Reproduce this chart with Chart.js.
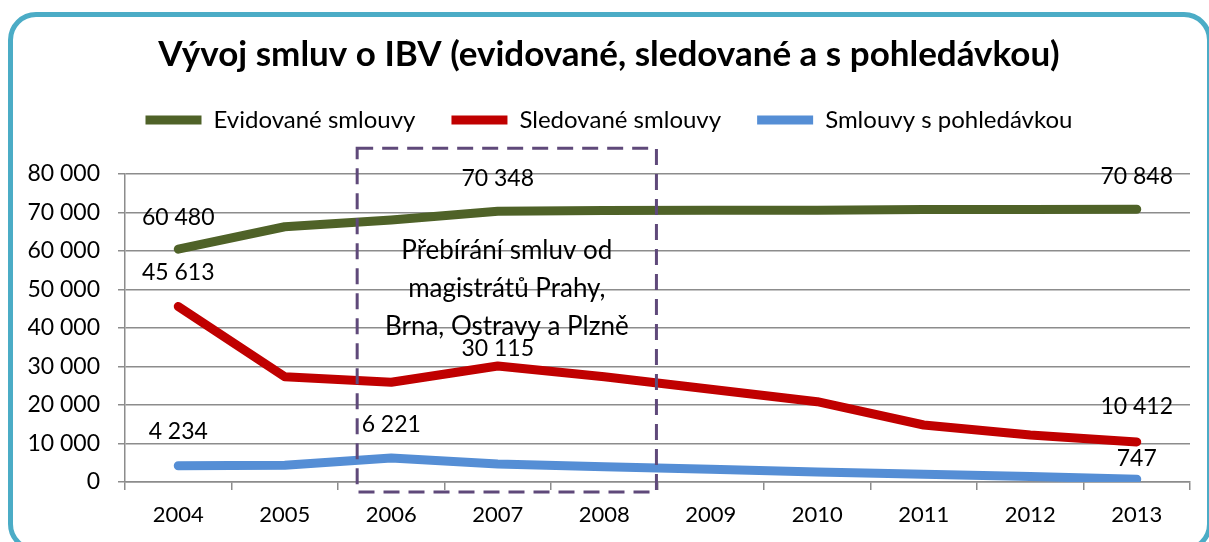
<!DOCTYPE html>
<html>
<head>
<meta charset="utf-8">
<script src="https://cdn.jsdelivr.net/npm/chart.js@4/dist/chart.umd.min.js"></script>
<style>
  html, body { margin: 0; padding: 0; background: #fff; overflow: hidden; }
  #wrap { position: relative; width: 1209px; height: 542px; }
  #frame {
    position: absolute; left: 8px; top: 12px; width: 1204px; height: 540px;
    border: 5px solid #4BACC6; border-radius: 28px; box-sizing: border-box;
  }
  canvas { position: absolute; left: 0; top: 0; }
</style>
</head>
<body>
<div id="wrap">
  <div id="frame"></div>
  <canvas id="chart" width="1209" height="542"></canvas>
</div>
<script>
// data
const years = ["2004", "2005", "2006", "2007", "2008", "2009", "2010", "2011", "2012", "2013"]
const evidovane = [60480, 66300, 68050, 70348, 70500, 70600, 70600, 70800, 70800, 70848]
const sledovane = [45613, 27350, 25900, 30115, 27350, 24070, 20860, 14800, 12200, 10412]
const sPohledavkou = [4234, 4350, 6221, 4700, 3980, 3290, 2600, 2000, 1400, 747]

const yTicks = { min: 0, max: 80000, step: 10000 }

// which points get a value label (series, index) and how far above the point
const valueLabels = [
  { series: 0, index: 0, dy: -32 },
  { series: 0, index: 3, dy: -33 },
  { series: 0, index: 9, dy: -33 },
  { series: 1, index: 0, dy: -34 },
  { series: 1, index: 3, dy: -17 },
  { series: 1, index: 9, dy: -35 },
  { series: 2, index: 0, dy: -34 },
  { series: 2, index: 2, dy: -33 },
  { series: 2, index: 9, dy: -21 }
]

// dashed box marking the takeover period (category index / value units)
const takeoverBox = { from: 1.68, to: 4.49, top: 86700, bottom: -2600 }
const takeoverText = ["Přebírání smluv od", "magistrátů Prahy,", "Brna, Ostravy a Plzně"]

const fontFamily = "Lato, 'Open Sans', sans-serif"

function fmt(v) {
  return String(v).replace(/\B(?=(\d{3})+(?!\d))/g, " ")
}

function xPixel(scale, idx) {
  const i = Math.floor(idx)
  const a = scale.getPixelForValue(i)
  const b = scale.getPixelForValue(i + 1)
  return a + (b - a) * (idx - i)
}

const labelsPlugin = {
  id: "valueLabels",
  afterDatasetsDraw(chart) {
    const ctx = chart.ctx
    ctx.save()
    ctx.font = "23px " + fontFamily
    ctx.fillStyle = "#000"
    ctx.textAlign = "center"
    ctx.textBaseline = "middle"
    valueLabels.forEach(l => {
      const pt = chart.getDatasetMeta(l.series).data[l.index]
      const v = chart.data.datasets[l.series].data[l.index]
      ctx.fillText(fmt(v), pt.x, pt.y + l.dy)
    })
    ctx.restore()
  }
}

const boxPlugin = {
  id: "takeoverBox",
  afterDatasetsDraw(chart) {
    const ctx = chart.ctx
    const x = chart.scales.x
    const y = chart.scales.y
    const left = xPixel(x, takeoverBox.from)
    const right = xPixel(x, takeoverBox.to)
    const top = y.getPixelForValue(takeoverBox.top)
    const bottom = y.getPixelForValue(takeoverBox.bottom)
    ctx.save()
    ctx.strokeStyle = "#5F497A"
    ctx.lineWidth = 3
    ctx.setLineDash([16, 9])
    ctx.strokeRect(left, top, right - left, bottom - top)
    ctx.setLineDash([])
    ctx.font = "26px " + fontFamily
    ctx.fillStyle = "#000"
    ctx.textAlign = "center"
    ctx.textBaseline = "middle"
    const cx = (left + right) / 2
    const firstLine = y.getPixelForValue(60000)
    takeoverText.forEach((t, i) => ctx.fillText(t, cx, firstLine + i * 38))
    ctx.restore()
  }
}

const lineStyle = {
  borderWidth: 9,
  borderCapStyle: "round",
  borderJoinStyle: "round",
  pointRadius: 0,
  pointHoverRadius: 0,
  tension: 0,
  fill: false
}

new Chart(document.getElementById("chart"), {
  type: "line",
  data: {
    labels: years,
    datasets: [
      { label: "Evidované smlouvy", data: evidovane, borderColor: "#4F6228", backgroundColor: "#4F6228", ...lineStyle },
      { label: "Sledované smlouvy", data: sledovane, borderColor: "#C00000", backgroundColor: "#C00000", ...lineStyle },
      { label: "Smlouvy s pohledávkou", data: sPohledavkou, borderColor: "#558ED5", backgroundColor: "#558ED5", ...lineStyle }
    ]
  },
  options: {
    responsive: false,
    animation: false,
    events: [],
    layout: { padding: { top: 20, right: 19, bottom: 0, left: 28 } },
    plugins: {
      title: {
        display: true,
        text: "Vývoj smluv o IBV (evidované, sledované a s pohledávkou)",
        color: "#000",
        font: { family: fontFamily, size: 35, weight: "bold", lineHeight: 1.0 },
        padding: { top: 17, bottom: 0 }
      },
      // empty spacer between the legend and the plot area
      subtitle: {
        display: true,
        text: " ",
        weight: 500,
        font: { size: 1, lineHeight: 1.0 },
        padding: { top: 31, bottom: 0 }
      },
      legend: {
        display: true,
        position: "top",
        labels: {
          color: "#000",
          font: { family: fontFamily, size: 24 },
          boxWidth: 56,
          boxHeight: 9,
          useBorderRadius: true,
          borderRadius: 4.5,
          padding: 36,
          generateLabels(chart) {
            return chart.data.datasets.map((ds, i) => ({
              text: ds.label,
              fillStyle: ds.borderColor,
              strokeStyle: ds.borderColor,
              lineWidth: 0,
              fontColor: "#000",
              hidden: false,
              datasetIndex: i
            }))
          }
        }
      },
      tooltip: { enabled: false }
    },
    scales: {
      x: {
        type: "category",
        offset: true,
        grid: {
          display: true,
          offset: true,
          drawOnChartArea: false,
          tickLength: 8,
          color: "#8c8c8c",
          lineWidth: 1.5
        },
        border: { display: true, color: "#8c8c8c", width: 1.5 },
        ticks: { color: "#000", font: { family: fontFamily, size: 22 }, padding: 12 },
        afterFit(scale) { scale.height = 60 }
      },
      y: {
        min: yTicks.min,
        max: yTicks.max,
        grid: { color: "#8c8c8c", lineWidth: 1.5, tickLength: 7 },
        border: { display: true, color: "#8c8c8c", width: 1.5 },
        ticks: {
          stepSize: yTicks.step,
          color: "#000",
          font: { family: fontFamily, size: 23 },
          padding: 18,
          callback: v => fmt(v)
        },
        // keeps the plot area starting at x = 125 like the reference
        afterFit(scale) { scale.width = 97 }
      }
    }
  },
  plugins: [labelsPlugin, boxPlugin]
})
</script>
</body>
</html>
